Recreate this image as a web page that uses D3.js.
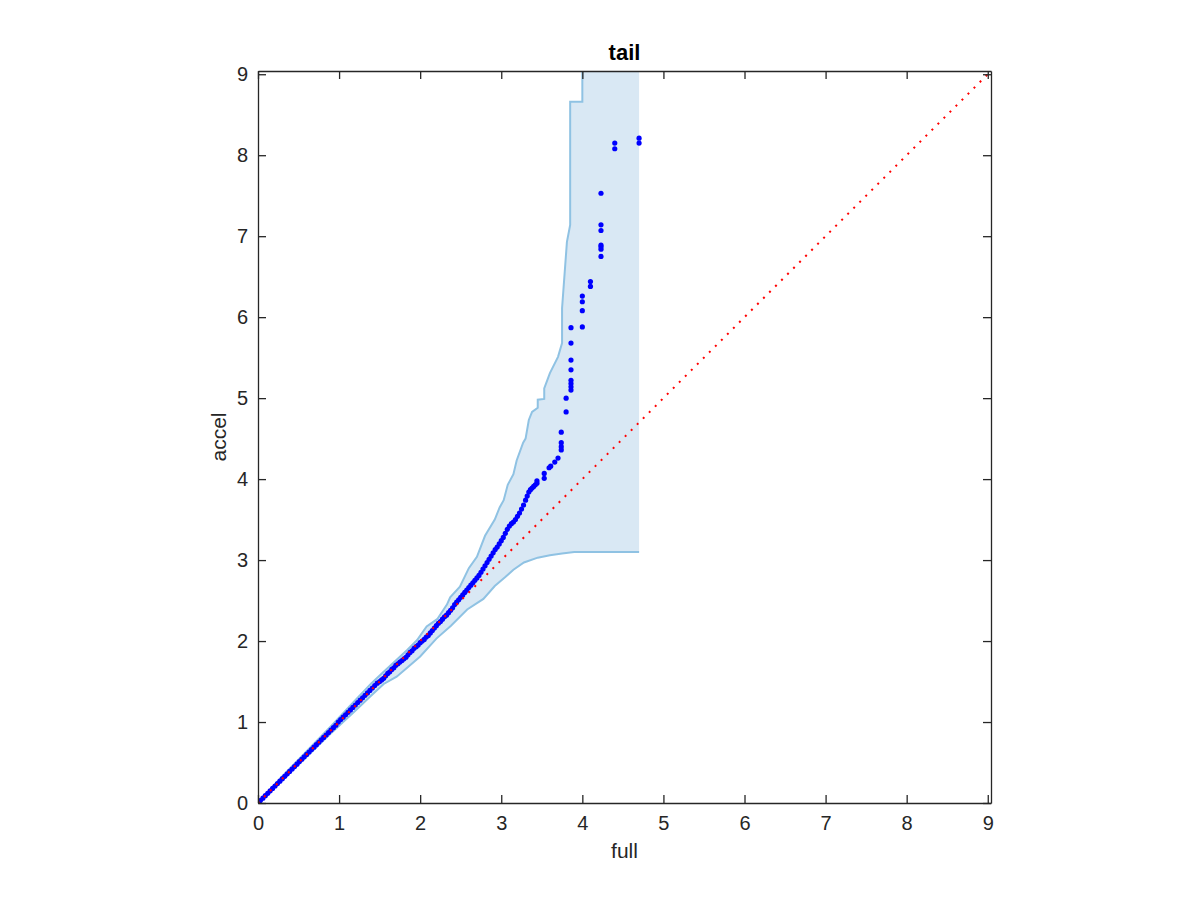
<!DOCTYPE html>
<html><head><meta charset="utf-8">
<script src="https://cdn.jsdelivr.net/npm/d3@7/dist/d3.min.js"></script>
<style>body{margin:0;background:#fff}svg{display:block}</style>
</head><body><svg id="chart" width="1200" height="900"></svg>
<script>
// QQ points: "full" quantiles (x) vs "accel" quantiles (y)
const fullQ = [
0.00,0.03,0.06,0.09,0.12,0.15,0.18,0.21,0.24,0.27,0.30,0.33,0.36,0.39,0.42,0.45,0.48,0.51,0.54,0.57,
0.60,0.63,0.66,0.69,0.72,0.75,0.78,0.81,0.84,0.87,0.90,0.93,0.96,0.99,1.02,1.05,1.08,1.11,1.14,1.17,
1.20,1.23,1.26,1.29,1.32,1.35,1.38,1.41,1.44,1.47,1.50,
1.525,1.55,1.575,1.60,1.625,1.65,1.675,1.70,1.725,1.75,1.775,1.80,1.825,1.85,1.875,1.90,1.925,1.95,1.975,
2.00,2.025,2.05,2.075,2.10,2.125,2.15,2.175,2.20,2.225,2.25,2.275,2.30,2.325,2.35,2.375,2.40,2.425,2.45,2.475,
2.50,2.525,2.55,2.575,2.60,2.625,2.65,2.675,2.70,2.725,2.75,2.775,2.80,2.825,2.85,2.875,2.90,2.925,2.95,2.975,
3.00,3.025,3.05,3.075,3.10,3.125,3.15,3.175,3.20,3.225,3.25,3.275,3.30,3.32,3.34,3.36,3.38,3.40,3.42,3.44,
3.44,3.53,3.53,3.59,3.61,3.66,3.70,3.74,3.74,3.74,3.74,3.80,3.80,3.86,3.86,3.86,3.86,3.86,3.86,3.86,3.86,
4.00,4.00,4.00,4.00,4.10,4.10,4.23,4.23,4.23,4.23,4.23,4.23,4.23,4.40,4.40,4.70,4.70
];
const accelQ = [
0.00,0.03,0.06,0.09,0.12,0.15,0.18,0.21,0.24,0.27,0.30,0.33,0.36,0.39,0.42,0.45,0.48,0.51,0.54,0.57,
0.60,0.63,0.66,0.69,0.72,0.75,0.78,0.81,0.84,0.87,0.90,0.93,0.96,1.00,1.03,1.06,1.09,1.12,1.15,1.18,
1.21,1.24,1.27,1.30,1.33,1.36,1.39,1.42,1.45,1.48,1.50,
1.52,1.54,1.57,1.60,1.62,1.65,1.67,1.70,1.72,1.74,1.76,1.78,1.80,1.83,1.86,1.88,1.91,1.93,1.95,
1.98,2.00,2.02,2.05,2.07,2.10,2.13,2.16,2.19,2.22,2.24,2.27,2.30,2.32,2.35,2.38,2.41,2.45,2.48,2.51,
2.54,2.57,2.60,2.63,2.66,2.69,2.72,2.75,2.78,2.81,2.85,2.89,2.93,2.97,3.01,3.05,3.09,3.13,3.16,3.20,
3.24,3.28,3.33,3.38,3.42,3.45,3.47,3.50,3.54,3.58,3.63,3.68,3.74,3.79,3.84,3.87,3.89,3.91,3.93,3.95,
3.98,4.01,4.07,4.14,4.16,4.21,4.26,4.36,4.40,4.45,4.58,4.83,5.00,5.10,5.14,5.18,5.22,5.35,5.47,5.68,5.87,
5.88,6.08,6.19,6.26,6.38,6.44,6.75,6.84,6.87,6.89,7.07,7.14,7.53,8.08,8.15,8.15,8.21
];
// simultaneous envelope (upper and lower bounds), as [full, accel]
const upperBandX = [0,0.30,0.60,0.90,1.20,1.40,1.55,1.70,1.84,1.96,2.08,2.21,2.33,2.37,2.49,2.60,2.70,2.80,2.92,2.98,3.03,3.08,3.15,3.19,3.27,3.30,3.34,3.38,3.45,3.45,3.53,3.53,3.60,3.70,3.75,3.75,3.81,3.85,3.85,4.00,4.00];
const upperBandY = [0,0.33,0.64,0.95,1.27,1.48,1.62,1.76,1.89,2.01,2.18,2.27,2.45,2.54,2.67,2.90,3.04,3.30,3.50,3.65,3.74,3.93,4.06,4.23,4.45,4.50,4.73,4.83,4.88,4.98,4.99,5.12,5.31,5.51,5.68,6.11,6.93,7.14,8.66,8.66,9.50];
const lowerBandX = [0,0.30,0.60,0.90,1.20,1.40,1.55,1.71,1.85,2.00,2.20,2.38,2.58,2.78,2.92,3.05,3.15,3.28,3.45,3.60,3.75,3.90,4.70];
const lowerBandY = [0,0.28,0.57,0.86,1.14,1.33,1.47,1.56,1.68,1.81,2.03,2.19,2.39,2.52,2.68,2.79,2.88,2.97,3.03,3.06,3.08,3.10,3.10];
const bandTopY = 9.50;
const tickValues = [0,1,2,3,4,5,6,7,8,9];
const axisMax = 9.04;
const titleText = "tail", xLabel = "full", yLabel = "accel";

const svg = d3.select("#chart");
const L = 258, R = 991, T = 71, B = 803;
const x = d3.scaleLinear().domain([0, axisMax]).range([L, R]);
const y = d3.scaleLinear().domain([0, axisMax]).range([B, T]);

svg.append("defs").append("clipPath").attr("id","clip")
  .append("rect").attr("x",L).attr("y",T).attr("width",R-L).attr("height",B-T);
const plot = svg.append("g").attr("clip-path","url(#clip)");

const upper = upperBandX.map((v,i)=>[v, upperBandY[i]]);
const lower = lowerBandX.map((v,i)=>[v, lowerBandY[i]]);
const lastLower = lower[lower.length-1];
const poly = upper.concat([[lastLower[0], bandTopY]], lower.slice().reverse());
const line = d3.line().x(d=>x(d[0])).y(d=>y(d[1]));

plot.append("path").attr("d", line(poly)+"Z").attr("fill","#d9e8f4").attr("stroke","none");
plot.append("path").attr("d", line(upper)).attr("fill","none").attr("stroke","#8fc2e3").attr("stroke-width",2);
plot.append("path").attr("d", line(lower)).attr("fill","none").attr("stroke","#8fc2e3").attr("stroke-width",2);

plot.selectAll("circle.q").data(fullQ.map((v,i)=>[v, accelQ[i]])).join("circle")
  .attr("class","q").attr("cx",d=>x(d[0])).attr("cy",d=>y(d[1])).attr("r",2.6).attr("fill","#0000ff");

plot.append("path").attr("d", line([[0,0],[axisMax,axisMax]]))
  .attr("fill","none").attr("stroke","#ff0000").attr("stroke-width",2).attr("stroke-dasharray","2,6.5");

function styleAxis(g){
  g.select(".domain").attr("stroke","#262626").attr("stroke-width",1.3);
  g.selectAll(".tick line").attr("stroke","#262626").attr("stroke-width",1.3);
  g.selectAll("text").attr("font-family","'Liberation Sans', Arial, Helvetica, sans-serif").attr("font-size",20).attr("fill","#262626");
}
svg.append("g").attr("transform",`translate(0,${B})`)
  .call(d3.axisBottom(x).tickValues(tickValues).tickSize(-8).tickSizeOuter(0).tickPadding(13).tickFormat(d3.format("d")))
  .call(styleAxis);
svg.append("g").attr("transform",`translate(${L},0)`)
  .call(d3.axisLeft(y).tickValues(tickValues).tickSize(-8).tickSizeOuter(0).tickPadding(10).tickFormat(d3.format("d")))
  .call(styleAxis);
svg.append("g").attr("transform",`translate(0,${T})`)
  .call(d3.axisTop(x).tickValues(tickValues).tickSize(-8).tickSizeOuter(0))
  .call(g=>g.selectAll("text").remove()).call(styleAxis);
svg.append("g").attr("transform",`translate(${R},0)`)
  .call(d3.axisRight(y).tickValues(tickValues).tickSize(-8).tickSizeOuter(0))
  .call(g=>g.selectAll("text").remove()).call(styleAxis);

const font = "'Liberation Sans', Arial, Helvetica, sans-serif";
svg.append("text").attr("x",(L+R)/2).attr("y",60).attr("text-anchor","middle")
  .attr("font-family",font).attr("font-size",22).attr("font-weight","bold").attr("fill","#000").text(titleText);
svg.append("text").attr("x",(L+R)/2).attr("y",858).attr("text-anchor","middle")
  .attr("font-family",font).attr("font-size",21).attr("fill","#262626").text(xLabel);
svg.append("text").attr("transform",`translate(226,${(T+B)/2}) rotate(-90)`).attr("text-anchor","middle")
  .attr("font-family",font).attr("font-size",21).attr("fill","#262626").text(yLabel);
</script></body></html>
